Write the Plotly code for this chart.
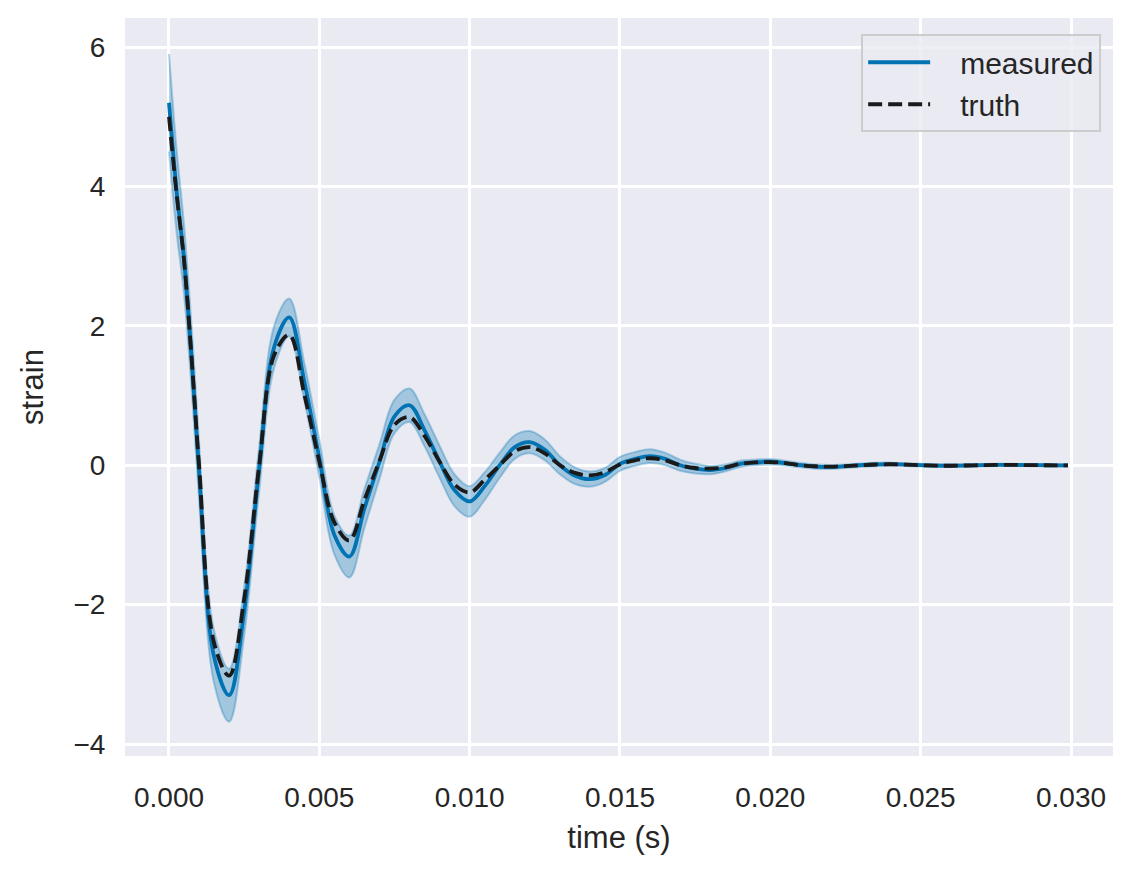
import plotly.graph_objects as go

# time samples (s)
time_s = [0.0, 0.00025, 0.0005, 0.00075, 0.001, 0.0015, 0.002, 0.0025, 0.003, 0.0035,
          0.004, 0.0045, 0.005, 0.0055, 0.006, 0.0065, 0.007, 0.0075, 0.008, 0.0085,
          0.009, 0.0095, 0.010, 0.0105, 0.011, 0.0115, 0.012, 0.0125, 0.013, 0.0135,
          0.014, 0.0145, 0.015, 0.0155, 0.016, 0.0165, 0.017, 0.0175, 0.018, 0.0185,
          0.019, 0.0195, 0.020, 0.0205, 0.021, 0.0215, 0.022, 0.0225, 0.023, 0.0235,
          0.024, 0.0245, 0.025, 0.0255, 0.026, 0.0265, 0.027, 0.0275, 0.028, 0.0285,
          0.029, 0.0295, 0.0299]

truth = [5.00, 3.90, 2.94, 1.55, 0.00, -2.55, -3.02, -1.92, 0.00, 1.58,
         1.87, 1.02, 0.05, -0.82, -1.08, -0.50, 0.06, 0.58, 0.69, 0.42,
         0.05, -0.28, -0.39, -0.21, 0.00, 0.20, 0.26, 0.17, 0.00, -0.11,
         -0.145, -0.10, 0.01, 0.07, 0.10, 0.07, 0.00, -0.04, -0.05, -0.03,
         0.02, 0.04, 0.045, 0.03, 0.00, -0.015, -0.02, -0.012, 0.00, 0.01,
         0.014, 0.008, 0.00, -0.006, -0.008, -0.004, 0.00, 0.004, 0.005, 0.002,
         0.00, -0.002, -0.002]

measured = [5.20, 3.95, 2.95, 1.55, -0.08, -2.75, -3.30, -2.10, -0.05, 1.70,
            2.12, 1.20, 0.10, -1.00, -1.31, -0.62, 0.05, 0.70, 0.86, 0.50,
            0.05, -0.36, -0.52, -0.30, 0.00, 0.26, 0.33, 0.22, 0.00, -0.15,
            -0.20, -0.14, 0.02, 0.09, 0.13, 0.09, 0.00, -0.05, -0.07, -0.04,
            0.02, 0.04, 0.05, 0.03, 0.00, -0.02, -0.025, -0.015, 0.00, 0.01,
            0.015, 0.008, 0.00, -0.006, -0.008, -0.004, 0.00, 0.004, 0.005, 0.002,
            0.00, -0.002, -0.002]

band_halfwidth = [0.70, 0.60, 0.50, 0.45, 0.40, 0.38, 0.38, 0.35, 0.32, 0.30,
                  0.27, 0.27, 0.27, 0.28, 0.30, 0.28, 0.25, 0.24, 0.24, 0.23,
                  0.23, 0.23, 0.22, 0.20, 0.18, 0.17, 0.16, 0.15, 0.13, 0.12,
                  0.11, 0.10, 0.10, 0.10, 0.10, 0.09, 0.08, 0.07, 0.06, 0.05,
                  0.045, 0.04, 0.04, 0.035, 0.03, 0.03, 0.028, 0.026, 0.025, 0.024,
                  0.022, 0.02, 0.02, 0.02, 0.018, 0.018, 0.016, 0.016, 0.015, 0.015,
                  0.015, 0.015, 0.015]

x_ticks = [0.000, 0.005, 0.010, 0.015, 0.020, 0.025, 0.030]
y_ticks = [-4, -2, 0, 2, 4, 6]
series_names = ["measured", "truth"]

upper = [m + b for m, b in zip(measured, band_halfwidth)]
lower = [m - b for m, b in zip(measured, band_halfwidth)]

BLUE = "#0173B2"
BAND = "rgba(1,115,178,0.3)"
FONT = "Liberation Sans, Arial, sans-serif"
TXT = "#262626"
GAP = "\u00a0\u00a0\u00a0"

fig = go.Figure()
fig.add_trace(go.Scatter(x=time_s, y=lower, mode="lines",
                         line=dict(color=BAND, width=2, shape="spline", smoothing=1.0),
                         showlegend=False, hoverinfo="skip"))
fig.add_trace(go.Scatter(x=time_s, y=upper, mode="lines",
                         line=dict(color=BAND, width=2, shape="spline", smoothing=1.0),
                         fill="tonexty", fillcolor=BAND, showlegend=False, hoverinfo="skip"))
fig.add_trace(go.Scatter(x=time_s, y=measured, mode="lines", name=GAP + series_names[0],
                         line=dict(color=BLUE, width=3.8, shape="spline", smoothing=1.0)))
fig.add_trace(go.Scatter(x=time_s, y=truth, mode="lines", name=GAP + series_names[1],
                         line=dict(color="#1a1a1a", width=3.8, dash="14px,6px",
                                   shape="spline", smoothing=1.0)))

fig.update_layout(
    width=1135, height=875,
    margin=dict(l=125, r=22, t=18, b=119),
    paper_bgcolor="white", plot_bgcolor="#EAEAF2",
    font=dict(family=FONT, size=29, color=TXT),
    legend=dict(x=0.988, y=0.978, xanchor="right", yanchor="top",
                bgcolor="rgba(234,234,242,0.8)", bordercolor="#CCCCCC", borderwidth=2,
                font=dict(size=30, color=TXT), itemwidth=62, tracegroupgap=0,
                traceorder="normal"),
)
fig.update_xaxes(range=[-0.001463, 0.031397], tickvals=x_ticks, tickformat=".3f",
                 showgrid=True, gridcolor="white", gridwidth=2.5, zeroline=False,
                 showline=False, ticks="outside", ticklen=16, tickcolor="rgba(0,0,0,0)",
                 title=dict(text="time (s)", font=dict(size=31), standoff=14),
                 tickfont=dict(size=28))
fig.update_yaxes(range=[-4.172, 6.416], tickvals=y_ticks,
                 showgrid=True, gridcolor="white", gridwidth=2.5, zeroline=False,
                 showline=False, ticks="outside", ticklen=13, tickcolor="rgba(0,0,0,0)",
                 title=dict(text="strain", font=dict(size=31), standoff=20),
                 tickfont=dict(size=28))

fig.write_html("out.html")
